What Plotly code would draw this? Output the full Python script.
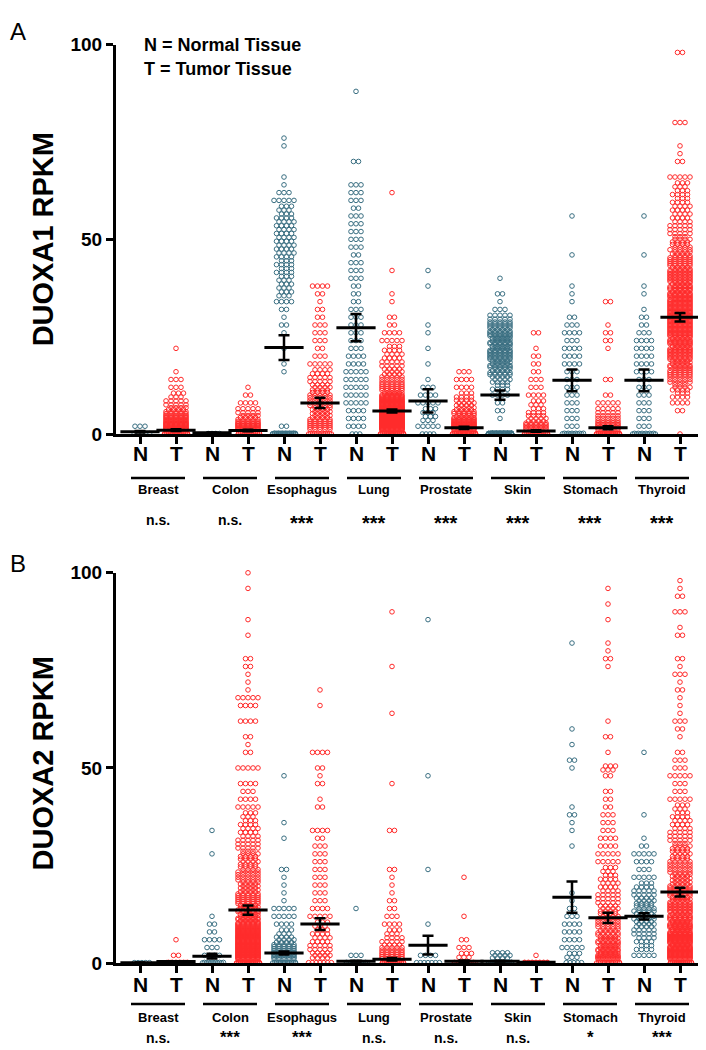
import math
import plotly.graph_objects as go

# ---- data (value bins of 2 RPKM: [bin value, number of samples]) ----
TISSUES = ["Breast", "Colon", "Esophagus", "Lung", "Prostate", "Skin", "Stomach", "Thyroid"]
GROUPS = ["N", "T"] * 8
SIG_A = ["n.s.", "n.s.", "***", "***", "***", "***", "***", "***"]
SIG_B = ["n.s.", "***", "***", "n.s.", "n.s.", "n.s.", "*", "***"]

# mean and SEM of every column (N, T per tissue)
A_MEAN = [0.6, 1.0, 0.3, 0.9, 22.2, 8.0, 27.3, 5.9, 8.5, 1.6, 10.0, 0.8, 13.8, 1.6, 13.8, 30.0]
A_SEM = [0.2, 0.2, 0.1, 0.2, 3.2, 1.3, 3.5, 0.4, 3.0, 0.3, 1.2, 0.2, 2.8, 0.4, 2.8, 1.1]
B_MEAN = [0.1, 0.4, 1.8, 13.6, 2.6, 10.0, 0.5, 1.0, 4.6, 0.5, 0.5, 0.2, 16.9, 11.6, 12.0, 18.2]
B_SEM = [0.05, 0.1, 0.6, 1.2, 0.4, 1.5, 0.1, 0.3, 2.4, 0.2, 0.1, 0.05, 4.0, 1.3, 0.8, 1.1]

# panel A: DUOXA1
A_BREAST_N = [[0, 10], [2, 3]]
A_BREAST_T = [[0, 60], [2, 45], [4, 30], [6, 18], [8, 10], [10, 6], [12, 3], [14, 3], [16, 1], [22, 1]]
A_COLON_N = [[0, 8]]
A_COLON_T = [[0, 50], [2, 35], [4, 18], [6, 10], [8, 4], [10, 2], [12, 1]]
A_ESO_N = [[0, 60], [2, 2], [16, 1], [18, 1], [22, 1], [26, 1], [28, 2], [30, 1], [32, 2], [34, 4],
           [36, 6], [38, 6], [40, 6], [42, 7], [44, 7], [46, 8], [48, 8], [50, 8], [52, 8], [54, 8],
           [56, 7], [58, 6], [60, 5], [62, 3], [64, 1], [66, 1], [74, 1], [76, 1]]
A_ESO_T = [[0, 20], [2, 20], [4, 18], [6, 16], [8, 15], [10, 14], [12, 12], [14, 10], [16, 8], [18, 5],
           [20, 3], [22, 2], [24, 3], [26, 3], [28, 3], [30, 2], [32, 2], [34, 1], [36, 2], [38, 4]]
A_LUNG_N = [[0, 3], [2, 4], [4, 4], [6, 4], [8, 5], [10, 5], [12, 5], [14, 5], [16, 5], [18, 4],
            [20, 4], [22, 3], [24, 3], [26, 3], [28, 3], [30, 3], [32, 3], [34, 2], [36, 2], [38, 2],
            [40, 3], [42, 3], [44, 3], [46, 2], [48, 3], [50, 3], [52, 3], [54, 3], [56, 3], [58, 2],
            [60, 3], [62, 3], [64, 3], [70, 2], [88, 1]]
A_LUNG_T = [[0, 60], [2, 70], [4, 65], [6, 55], [8, 45], [10, 32], [12, 20], [14, 15], [16, 12],
            [18, 10], [20, 8], [22, 7], [24, 5], [26, 4], [28, 2], [30, 2], [34, 1], [36, 1],
            [42, 1], [62, 1]]
A_PROS_N = [[0, 4], [2, 5], [4, 6], [6, 6], [8, 5], [10, 4], [12, 3], [14, 1], [18, 1], [22, 1],
            [26, 1], [28, 1], [38, 1], [42, 1]]
A_PROS_T = [[0, 80], [2, 40], [4, 28], [6, 18], [8, 12], [10, 7], [12, 4], [14, 4], [16, 3]]
A_SKIN_N = [[0, 150], [4, 1], [6, 2], [8, 2], [10, 4], [12, 7], [14, 12], [16, 18], [18, 22],
            [20, 25], [22, 26], [24, 26], [26, 24], [28, 20], [30, 10], [32, 3], [34, 1], [36, 2], [40, 1]]
A_SKIN_T = [[0, 60], [2, 25], [4, 12], [6, 7], [8, 6], [10, 4], [12, 3], [14, 3], [16, 2], [18, 2],
            [20, 2], [22, 1], [26, 2]]
A_STOM_N = [[0, 25], [2, 3], [4, 3], [6, 3], [8, 3], [10, 3], [12, 3], [14, 3], [16, 3], [18, 4],
            [20, 4], [22, 4], [24, 3], [26, 4], [28, 3], [30, 2], [34, 1], [36, 1], [38, 1], [46, 1],
            [56, 1]]
A_STOM_T = [[0, 60], [2, 25], [4, 15], [6, 10], [8, 5], [10, 2], [14, 2], [22, 1], [24, 2], [26, 2],
            [28, 1], [34, 2]]
A_THYR_N = [[0, 20], [2, 3], [4, 3], [6, 3], [8, 3], [10, 3], [12, 3], [14, 3], [16, 4], [18, 4],
            [20, 4], [22, 4], [24, 4], [26, 3], [28, 2], [30, 2], [32, 1], [36, 1], [38, 1], [46, 1],
            [56, 1]]
A_THYR_T = [[0, 1], [6, 2], [8, 4], [10, 7], [12, 11], [14, 15], [16, 19], [18, 22], [20, 25],
            [22, 27], [24, 28], [26, 30], [28, 30], [30, 30], [32, 30], [34, 29], [36, 28], [38, 27],
            [40, 25], [42, 23], [44, 20], [46, 17], [48, 13], [50, 11], [52, 10], [54, 9], [56, 8],
            [58, 8], [60, 7], [62, 7], [64, 6], [66, 5], [70, 2], [72, 1], [74, 1], [80, 3], [98, 2]]

# panel B: DUOXA2
B_BREAST_N = [[0, 10]]
B_BREAST_T = [[0, 40], [2, 2], [6, 1]]
B_COLON_N = [[0, 25], [2, 4], [4, 3], [6, 4], [8, 2], [10, 2], [12, 1], [28, 1], [34, 1]]
B_COLON_T = [[0, 60], [2, 55], [4, 50], [6, 45], [8, 40], [10, 33], [12, 26], [14, 22], [16, 20],
             [18, 18], [20, 16], [22, 15], [24, 13], [26, 12], [28, 11], [30, 10], [32, 9], [34, 8],
             [36, 7], [38, 6], [40, 5], [42, 4], [44, 3], [46, 4], [50, 5], [54, 2], [56, 1], [58, 2],
             [62, 4], [66, 4], [68, 5], [70, 1], [72, 1], [74, 1], [76, 2], [78, 2], [84, 1], [88, 1],
             [96, 1], [100, 1]]
B_ESO_N = [[0, 40], [2, 25], [4, 20], [6, 12], [8, 6], [10, 4], [12, 5], [14, 5], [16, 1], [18, 1],
           [20, 1], [22, 1], [24, 2], [32, 1], [36, 1], [48, 1]]
B_ESO_T = [[0, 14], [2, 12], [4, 10], [6, 8], [8, 7], [10, 6], [12, 5], [14, 4], [16, 3], [18, 3],
           [20, 3], [22, 3], [24, 3], [26, 3], [28, 3], [30, 3], [32, 2], [34, 4], [40, 2], [42, 1],
           [46, 2], [48, 1], [50, 2], [54, 4], [66, 1], [70, 1]]
B_LUNG_N = [[0, 30], [2, 3], [14, 1]]
B_LUNG_T = [[0, 50], [2, 20], [4, 14], [6, 9], [8, 6], [10, 4], [12, 3], [14, 2], [16, 2], [18, 1],
            [20, 1], [22, 1], [24, 2], [34, 2], [46, 1], [64, 1], [76, 1], [90, 1]]
B_PROS_N = [[0, 14], [2, 4], [10, 1], [24, 1], [48, 1], [88, 1]]
B_PROS_T = [[0, 30], [2, 6], [4, 3], [6, 2], [12, 1], [22, 1]]
B_SKIN_N = [[0, 80], [2, 12]]
B_SKIN_T = [[0, 35], [2, 1]]
B_STOM_N = [[0, 10], [2, 6], [4, 5], [6, 4], [8, 4], [10, 4], [12, 3], [14, 2], [16, 1], [18, 1],
            [30, 1], [34, 1], [36, 1], [38, 2], [40, 1], [50, 1], [52, 2], [56, 1], [60, 1], [82, 1]]
B_STOM_T = [[0, 40], [2, 32], [4, 26], [6, 22], [8, 18], [10, 15], [12, 13], [14, 12], [16, 10],
            [18, 9], [20, 8], [22, 7], [24, 6], [26, 5], [28, 5], [30, 4], [32, 4], [34, 3], [36, 3],
            [38, 3], [40, 2], [42, 2], [44, 2], [48, 2], [50, 6], [54, 1], [58, 2], [62, 1], [76, 1],
            [78, 2], [80, 1], [82, 1], [88, 1], [92, 1], [96, 1]]
B_THYR_N = [[2, 5], [4, 7], [6, 8], [8, 10], [10, 12], [12, 13], [14, 13], [16, 12], [18, 10],
            [20, 7], [22, 5], [24, 3], [26, 4], [28, 5], [30, 2], [32, 1], [38, 1], [54, 1]]
B_THYR_T = [[0, 50], [2, 45], [4, 42], [6, 40], [8, 36], [10, 32], [12, 28], [14, 25], [16, 22],
            [18, 20], [20, 18], [22, 16], [24, 15], [26, 14], [28, 12], [30, 11], [32, 10], [34, 9],
            [36, 8], [38, 7], [40, 6], [42, 5], [44, 3], [46, 3], [48, 5], [50, 3], [52, 3], [54, 2],
            [58, 1], [60, 2], [62, 3], [64, 1], [66, 1], [68, 1], [70, 2], [72, 1], [74, 3], [76, 1],
            [78, 2], [84, 2], [86, 1], [90, 3], [94, 2], [96, 1], [98, 1]]

A_DATA = [A_BREAST_N, A_BREAST_T, A_COLON_N, A_COLON_T, A_ESO_N, A_ESO_T, A_LUNG_N, A_LUNG_T,
          A_PROS_N, A_PROS_T, A_SKIN_N, A_SKIN_T, A_STOM_N, A_STOM_T, A_THYR_N, A_THYR_T]
B_DATA = [B_BREAST_N, B_BREAST_T, B_COLON_N, B_COLON_T, B_ESO_N, B_ESO_T, B_LUNG_N, B_LUNG_T,
          B_PROS_N, B_PROS_T, B_SKIN_N, B_SKIN_T, B_STOM_N, B_STOM_T, B_THYR_N, B_THYR_T]

N_COLOR = "#3a6f82"
T_COLOR = "#ff2b2b"
FONT = "Liberation Sans, Arial, sans-serif"
W, H = 706, 1050
COL_PX = 36.0  # pixel distance between two columns

# the page puts the figure a bit off the window corner (and squeezes it a little); undo that
X_OFF, Y_OFF, Y_SCALE = 8, 16.3, 0.9816


def fx(X):
    return (X - X_OFF) / W


def fy(Y):
    return 1 - (Y - Y_OFF) / Y_SCALE / H


def swarm(cols, which):
    # GraphPad-like column scatter: the points of one bin side by side, stacked rows when crowded
    xs, ys = [], []
    for i in range(which, 16, 2):
        for value, count in cols[i]:
            if value == 0:
                per_row, gap, band = 7, 3.8, 0.5
            else:
                per_row, gap, band = 5, 5.0, 2.0
            nrows = math.ceil(count / per_row)
            left = count
            for r in range(nrows):
                n = math.ceil(left / (nrows - r))
                left -= n
                dy = 0 if nrows == 1 else band * ((r + 0.5) / nrows - 0.5)
                shift = 0.5 if (r % 2 and n < per_row) else 0
                for j in range(n):
                    xs.append(i + (j - (n - 1) / 2 + shift) * gap / COL_PX)
                    ys.append(value + dy)
    return xs, ys


# sig_y: centre of "n.s."; star_y / star_size: text box centre and size of "***"
panels = [
    dict(ax="", top=43, bottom=433, data=A_DATA, mean=A_MEAN, sem=A_SEM, title="DUOXA1 RPKM",
         title_y=238, sig=SIG_A, letter="A", letter_y=30, nt_y=453, line_y=477,
         tissue_y=489, sig_y=519, star_y=522, star_size=20),
    dict(ax="2", top=572, bottom=963, data=B_DATA, mean=B_MEAN, sem=B_SEM, title="DUOXA2 RPKM",
         title_y=763, sig=SIG_B, letter="B", letter_y=563, nt_y=984, line_y=1004,
         tissue_y=1017, sig_y=1038, star_y=1037, star_size=17),
]

fig = go.Figure()
annotations = []
shapes = []
layout = {}
for p in panels:
    xname, yname = "x" + p["ax"], "y" + p["ax"]
    for which, color in [(0, N_COLOR), (1, T_COLOR)]:
        xs, ys = swarm(p["data"], which)
        fig.add_trace(go.Scatter(
            x=xs, y=ys, xaxis=xname, yaxis=yname, mode="markers", cliponaxis=False,
            marker=dict(symbol="circle-open", size=4.6, color=color, line=dict(width=1.0, color=color)),
            hoverinfo="skip", showlegend=False))
    fig.add_trace(go.Scatter(
        x=list(range(16)), y=p["mean"], xaxis=xname, yaxis=yname, mode="markers", cliponaxis=False,
        marker=dict(symbol="line-ew", size=28, color="black", line=dict(width=3, color="black")),
        error_y=dict(type="data", array=p["sem"], visible=True, color="black", thickness=2.5, width=5.5),
        hoverinfo="skip", showlegend=False))

    layout["xaxis" + p["ax"]] = dict(
        domain=[fx(116), 1], range=[-24 / COL_PX, (W + X_OFF - 140) / COL_PX], anchor=yname,
        showline=True, linewidth=3, linecolor="black", ticks="outside", ticklen=7, tickwidth=2.5,
        tickcolor="black", tickvals=list(range(16)), showticklabels=False,
        showgrid=False, zeroline=False, fixedrange=True)
    layout["yaxis" + p["ax"]] = dict(
        domain=[fy(p["bottom"]), fy(p["top"])], range=[0, 100], anchor=xname,
        showline=True, linewidth=3, linecolor="black", ticks="outside", ticklen=7, tickwidth=2.5,
        tickcolor="black", tickvals=[0, 50, 100],
        tickfont=dict(family=FONT, size=19, color="black", weight="bold"),
        showgrid=False, zeroline=False, fixedrange=True)

    annotations.append(dict(
        text=p["title"], x=fx(43), y=fy(p["title_y"]), xref="paper", yref="paper",
        textangle=-90, showarrow=False, xanchor="center", yanchor="middle",
        font=dict(family=FONT, size=29, color="black", weight="bold")))
    annotations.append(dict(
        text=p["letter"], x=0, y=fy(p["letter_y"]), xref="paper", yref="paper",
        showarrow=False, xanchor="left", yanchor="middle",
        font=dict(family=FONT, size=24, color="black")))
    for i, g in enumerate(GROUPS):
        annotations.append(dict(
            text=g, x=i, y=fy(p["nt_y"]), xref=xname, yref="paper", showarrow=False,
            xanchor="center", yanchor="middle",
            font=dict(family=FONT, size=21, color="black", weight="bold")))
    for k, tissue in enumerate(TISSUES):
        mid = 2 * k + 0.5
        shapes.append(dict(type="line", xref=xname, yref="paper", x0=mid - 0.75, x1=mid + 0.75,
                           y0=fy(p["line_y"]), y1=fy(p["line_y"]), line=dict(color="black", width=2.5)))
        annotations.append(dict(
            text=tissue, x=mid, y=fy(p["tissue_y"]), xref=xname, yref="paper", showarrow=False,
            xanchor="center", yanchor="middle",
            font=dict(family=FONT, size=13, color="black", weight="bold")))
        stars = p["sig"][k].startswith("*")
        annotations.append(dict(
            text=p["sig"][k], x=mid, y=fy(p["star_y"] if stars else p["sig_y"]), xref=xname,
            yref="paper", showarrow=False, xanchor="center", yanchor="middle",
            font=dict(family=FONT, size=p["star_size"] if stars else 14, color="black", weight="bold")))

for txt, yy in [("N = Normal Tissue", 43), ("T = Tumor Tissue", 67)]:
    annotations.append(dict(
        text=txt, x=fx(142), y=fy(yy), xref="paper", yref="paper", showarrow=False,
        xanchor="left", yanchor="middle", font=dict(family=FONT, size=18, color="black", weight="bold")))

fig.update_layout(
    width=W, height=H, margin=dict(l=0, r=0, t=0, b=0),
    paper_bgcolor="white", plot_bgcolor="white",
    annotations=annotations, shapes=shapes, **layout)

fig.write_html("out.html")
